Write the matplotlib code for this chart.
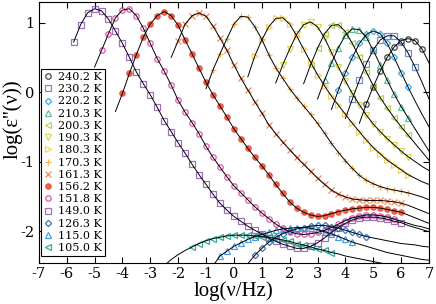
import matplotlib
matplotlib.use('Agg')
import matplotlib.pyplot as plt

plt.rcParams['font.family'] = ['DejaVu Serif']
plt.rcParams['axes.unicode_minus'] = False

# log10 frequency grid of the spectra
logf = [-6.0, -5.75, -5.5, -5.25, -5.0, -4.75, -4.5, -4.25, -4.0, -3.75, -3.5,
        -3.25, -3.0, -2.75, -2.5, -2.25, -2.0, -1.75, -1.5, -1.25, -1.0, -0.75,
        -0.5, -0.25, 0.0, 0.25, 0.5, 0.75, 1.0, 1.25, 1.5, 1.75, 2.0, 2.25, 2.5,
        2.75, 3.0, 3.25, 3.5, 3.75, 4.0, 4.25, 4.5, 4.75, 5.0, 5.25, 5.5, 5.75,
        6.0, 6.25, 6.5, 6.75, 7.0]

labels = ['240.2 K', '230.2 K', '220.2 K', '210.3 K', '200.3 K', '190.3 K',
          '180.3 K', '170.3 K', '161.3 K', '156.2 K', '151.8 K', '149.0 K',
          '126.3 K', '115.0 K', '105.0 K']

# log eps'' along the grid, first value at line_start
y240 = [-0.45, -0.17, 0.08, 0.3, 0.5, 0.65, 0.74, 0.77, 0.74, 0.62, 0.42]
y230 = [-0.38, -0.1, 0.17, 0.41, 0.61, 0.75, 0.81, 0.81, 0.72, 0.56, 0.36, 0.14, -0.1]
y220 = [-0.25, 0.03, 0.28, 0.5, 0.7, 0.83, 0.88, 0.84, 0.7, 0.5, 0.28, 0.07, -0.13,
        -0.32, -0.5]
y210 = [-0.1, 0.17, 0.42, 0.64, 0.82, 0.91, 0.9, 0.79, 0.6, 0.39, 0.17, -0.03, -0.21,
        -0.37, -0.53, -0.69, -0.85]
y200 = [0.12, 0.39, 0.63, 0.84, 0.96, 0.97, 0.87, 0.7, 0.5, 0.29, 0.09, -0.08, -0.23,
        -0.37, -0.5, -0.62, -0.74, -0.86, -0.98]
y190 = [0.13, 0.39, 0.62, 0.83, 0.97, 1.01, 0.94, 0.78, 0.57, 0.36, 0.16, -0.02,
        -0.18, -0.33, -0.46, -0.57, -0.67, -0.76, -0.85, -0.93, -1.0, -1.07, -1.13]
y180 = [0.22, 0.52, 0.75, 0.94, 1.06, 1.07, 0.98, 0.81, 0.62, 0.43, 0.25, 0.09,
        -0.06, -0.19, -0.32, -0.45, -0.57, -0.69, -0.8, -0.89, -0.98, -1.05, -1.12,
        -1.19, -1.24, -1.29, -1.33]
y170 = [0.05, 0.32, 0.55, 0.77, 0.98, 1.09, 1.08, 0.94, 0.76, 0.54, 0.35, 0.2, 0.05,
        -0.08, -0.2, -0.32, -0.45, -0.59, -0.74, -0.87, -0.99, -1.1, -1.2, -1.27,
        -1.32, -1.36, -1.39, -1.41, -1.43, -1.45, -1.48, -1.51, -1.55]
y161 = [0.5, 0.74, 0.98, 1.1, 1.14, 1.09, 0.95, 0.78, 0.6, 0.39, 0.2, 0.03, -0.14,
        -0.3, -0.47, -0.6, -0.72, -0.83, -0.94, -1.04, -1.14, -1.24, -1.33, -1.41,
        -1.47, -1.51, -1.54, -1.55, -1.56, -1.56, -1.56, -1.57, -1.58, -1.6, -1.63,
        -1.67, -1.71, -1.75]
y156 = [-0.28, -0.02, 0.27, 0.54, 0.79, 0.98, 1.1, 1.16, 1.1, 0.96, 0.75, 0.55, 0.34,
        0.14, -0.04, -0.2, -0.36, -0.53, -0.67, -0.81, -0.94, -1.06, -1.19, -1.33,
        -1.46, -1.58, -1.67, -1.73, -1.77, -1.79, -1.78, -1.75, -1.72, -1.7, -1.68,
        -1.67, -1.66, -1.66, -1.67, -1.69, -1.71, -1.73, -1.77, -1.81, -1.85, -1.89]
y151 = [0.36, 0.6, 0.84, 1.07, 1.18, 1.2, 1.1, 0.92, 0.7, 0.48, 0.3, 0.1, -0.12,
        -0.29, -0.44, -0.6, -0.78, -0.94, -1.08, -1.22, -1.35, -1.45, -1.55, -1.65,
        -1.74, -1.82, -1.9, -1.96, -2.01, -2.04, -2.05, -2.04, -2.02, -1.99, -1.95,
        -1.9, -1.85, -1.81, -1.79, -1.77, -1.77, -1.78, -1.8, -1.83, -1.86, -1.89,
        -1.92, -1.94, -1.97]
y149 = [0.72, 0.97, 1.14, 1.2, 1.17, 1.05, 0.88, 0.7, 0.5, 0.29, 0.12, -0.04, -0.22,
        -0.41, -0.57, -0.73, -0.88, -1.04, -1.19, -1.33, -1.47, -1.6, -1.7, -1.79,
        -1.86, -1.93, -1.99, -2.04, -2.1, -2.15, -2.19, -2.22, -2.25, -2.25, -2.22,
        -2.17, -2.1, -2.02, -1.95, -1.89, -1.84, -1.81, -1.8, -1.8, -1.81, -1.83,
        -1.86, -1.88, -1.92, -1.95, -1.98, -2.01]
y126 = [-2.47, -2.35, -2.25, -2.16, -2.09, -2.04, -2.0, -1.97, -1.95, -1.93, -1.92,
        -1.92, -1.94, -1.96, -1.99, -2.02, -2.05, -2.08, -2.1, -2.12, -2.14, -2.16,
        -2.18, -2.19, -2.2, -2.22, -2.23]
y115 = [-2.5, -2.36, -2.29, -2.22, -2.17, -2.12, -2.08, -2.05, -2.02, -1.99, -1.97,
        -1.96, -1.95, -1.95, -1.96, -1.98, -2.01, -2.04, -2.08, -2.12, -2.16, -2.19,
        -2.22, -2.25, -2.28, -2.31, -2.33, -2.35, -2.37, -2.39, -2.41, -2.42]
y105 = [-2.5, -2.41, -2.34, -2.28, -2.23, -2.18, -2.14, -2.11, -2.09, -2.07, -2.06,
        -2.06, -2.06, -2.07, -2.08, -2.09, -2.11, -2.13, -2.15, -2.18, -2.2, -2.23,
        -2.26, -2.28, -2.31, -2.33, -2.36, -2.38, -2.4, -2.42, -2.44, -2.46, -2.48,
        -2.5]

eps = [y240, y230, y220, y210, y200, y190, y180, y170, y161, y156, y151, y149,
       y126, y115, y105]
line_start = [4.5, 4.0, 3.5, 3.0, 2.5, 1.5, 0.5, -1.0, -2.25, -4.25, -5.0, -5.75,
              0.5, -0.75, -2.5]
data_lo = [4.75, 4.25, 3.75, 3.25, 2.75, 1.75, 0.75, -0.75, -2.0, -4.0, -4.75, -5.75,
           0.75, -0.5, -1.5]
data_hi = [6.75, 6.5, 6.25, 6.25, 6.25, 6.25, 6.25, 6.25, 6.0, 6.0, 5.75, 6.0,
           4.75, 4.25, 3.5]

markers = ['o', 's', 'D', '^', '<', 'v', '>', '+', 'x', 'o', 'o', 's', 'D', '^', '<']
colors = ['#222222', '#5a7fc4', '#1f9be0', '#45b48e', '#a9c841', '#d6d23c',
          '#f7c940', '#f7a231', '#f0763c', '#ea4a32', '#d93a9c', '#9058b0',
          '#1f5fae', '#2a8ee0', '#159c82']

fig = plt.figure(figsize=(4.36, 3.04), dpi=100)
ax = fig.add_axes([0.089, 0.135, 0.895, 0.858])

for ys, x0, lo, hi, m, c, lab in zip(eps, line_start, data_lo, data_hi,
                                      markers, colors, labels):
    i0 = logf.index(x0)
    xs = logf[i0:i0 + len(ys)]
    ax.plot(xs, ys, color='black', lw=0.7, zorder=3)
    xd = [x for x in xs if lo <= x <= hi]
    yd = [y for x, y in zip(xs, ys) if lo <= x <= hi]
    face = c if lab == '156.2 K' else 'none'
    ms = 3.2 if m == 'D' else 3.9
    ax.plot(xd, yd, ls='none', marker=m, ms=ms, mfc=face, mec=c, mew=0.9,
            alpha=0.85, label=lab, zorder=2)

ax.set_xlim(-7, 7)
ax.set_ylim(-2.46, 1.295)
ax.set_xticks(range(-7, 8))
ax.set_yticks([-2, -1, 0, 1])
ax.tick_params(direction='in', top=True, right=True, length=4, width=0.8,
               labelsize=10.5, pad=3)
for s in ax.spines.values():
    s.set_linewidth(0.8)

ax.set_xlabel('log(ν/Hz)', fontsize=15, labelpad=0, family='Liberation Serif')
ax.set_ylabel("log(ε''(ν))", fontsize=15, family='Liberation Serif')
ax.yaxis.set_label_coords(-0.042, 0.55)

leg = ax.legend(loc='lower left', bbox_to_anchor=(0.006, 0.025), fontsize=8,
                handlelength=0.7, handletextpad=0.5, labelspacing=0.2,
                borderpad=0.3, borderaxespad=0, fancybox=False, framealpha=1,
                edgecolor='black')
leg.get_frame().set_linewidth(0.8)

fig.savefig('out.png', dpi=100)
